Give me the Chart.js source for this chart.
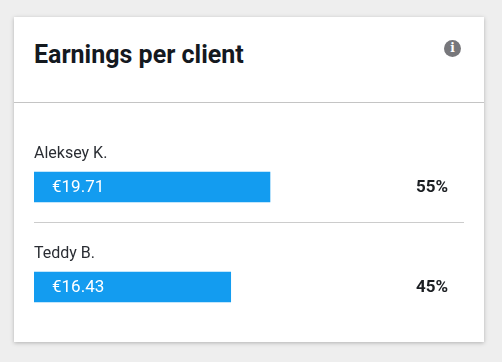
<!DOCTYPE html>
<html>
<head>
    <meta charset="UTF-8">
    <script src="https://cdn.jsdelivr.net/npm/chart.js"></script>
    <style>
        html, body { margin: 0; padding: 0; background: #eeeeee; width: 502px; height: 362px; overflow: hidden; }
        .card {
            position: absolute; left: 14px; top: 17px; width: 470px; height: 325px;
            background: #fff; box-shadow: 0 1px 4px rgba(0,0,0,0.25);
        }
        h2 {
            position: absolute; left: 20px; top: 23px; margin: 0;
            font: 700 25px/30px Roboto, sans-serif; color: #14191f;
        }
        .info {
            position: absolute; left: 430px; top: 23px; width: 17px; height: 17px; border-radius: 50%;
            background: #77777b; color: #fff; text-align: center;
            font: 700 12px/17px "DejaVu Serif", serif;
        }
        .line { position: absolute; height: 1px; background: #c4c4c4; }
        #header-line { left: 0; top: 85px; width: 470px; }
        #row-line { left: 20px; top: 205px; width: 430px; background: #cccccc; }
        #earnings { position: absolute; left: 20px; top: 120px; }
    </style>
</head>
<body>
    <div class="card">
        <h2>Earnings per client</h2>
        <div class="info">i</div>
        <div class="line" id="header-line"></div>
        <div class="line" id="row-line"></div>
        <canvas id="earnings" width="431" height="200"></canvas>
    </div>

    <script>
        const clients = ['Aleksey K.', 'Teddy B.'];
        const earnings = [19.71, 16.43];
        const valueLabels = ['€19.71', '€16.43'];
        const shares = ['55%', '45%'];
        const axisMax = 36;

        // names above the bars, amount inside, share on the right
        const rowLabels = {
            id: 'rowLabels',
            afterDatasetsDraw(chart) {
                const ctx = chart.ctx;
                const bars = chart.getDatasetMeta(0).data;
                ctx.save();
                ctx.textBaseline = 'middle';
                bars.forEach(function(bar, i) {
                    ctx.textAlign = 'left';
                    ctx.fillStyle = '#2a2d33';
                    ctx.font = '400 16px Roboto';
                    ctx.fillText(clients[i], chart.chartArea.left, bar.y - 33.5);

                    ctx.fillStyle = '#ffffff';
                    ctx.font = '400 17px Roboto';
                    ctx.fillText(valueLabels[i], chart.chartArea.left + 18, bar.y + 1);

                    ctx.textAlign = 'center';
                    ctx.fillStyle = '#1b1e22';
                    ctx.font = '700 17px Roboto';
                    ctx.fillText(shares[i], 398, bar.y + 1);
                });
                ctx.restore();
            }
        };

        new Chart(document.getElementById('earnings').getContext('2d'), {
            type: 'bar',
            data: {
                labels: clients,
                datasets: [{
                    data: earnings,
                    backgroundColor: '#139cf0',
                    barThickness: 30
                }]
            },
            options: {
                indexAxis: 'y',
                responsive: false,
                animation: false,
                layout: { padding: 0 },
                plugins: {
                    legend: { display: false },
                    tooltip: { enabled: false }
                },
                scales: {
                    x: { display: false, min: 0, max: axisMax },
                    y: { display: false }
                }
            },
            plugins: [rowLabels]
        });
    </script>
</body>
</html>
